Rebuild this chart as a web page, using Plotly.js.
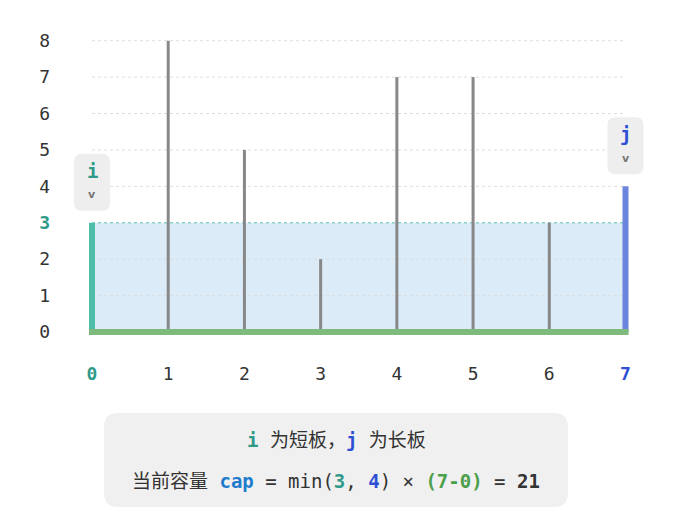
<!DOCTYPE html>
<html>
<head>
<meta charset="utf-8">
<script src="https://cdn.plot.ly/plotly-3.0.1.min.js"></script>
<style>html,body{margin:0;padding:0;background:#fff;}#chart{width:680px;height:518px;}</style>
</head>
<body>
<div id="chart"></div>
<script>
// ---- data ----
const positions = [0, 1, 2, 3, 4, 5, 6, 7];
const heights = [3, 8, 5, 2, 7, 7, 3, 4];
const xTickLabels = ['0', '1', '2', '3', '4', '5', '6', '7'];
const yTickValues = [0, 1, 2, 3, 4, 5, 6, 7, 8];
const iIndex = 0;
const jIndex = 7;
const lineOneText = ['为短板，', '为长板'];
const lineTwoLabel = '当前容量';

// ---- styles ----
const TEAL = '#4fbdaa', TEAL_TXT = '#2f9a8a';
const BLUE = '#6b84de', BLUE_TXT = '#2d4fd4';
const CAP_BLUE = '#1f7ccc';
const GREEN = '#7dba7b', GREEN_TXT = '#4c9f4a';
const GRAY = '#888888';
const MONO = 'DejaVu Sans Mono, Noto Sans CJK SC, monospace';

const W = 680, H = 518;
const L = 80, R = 43, T = 30, B = 173;
const px0 = 92, px7 = 625.5;
const pxPerX = (px7 - px0) / (positions[positions.length-1] - positions[0]);
const xr0 = positions[0] - (px0 - L) / pxPerX;
const xr1 = positions[positions.length-1] + ((W - R) - px7) / pxPerX;
const py0 = 332, py8 = 40.7;
const pxPerY = (py0 - py8) / (yTickValues[yTickValues.length-1] - yTickValues[0]);
const yr0 = 0 - ((H - B) - py0) / pxPerY;
const yr1 = yTickValues[yTickValues.length-1] + (py8 - T) / pxPerY;
const toPaperX = v => (v - xr0) / (xr1 - xr0);
const toPaperY = v => (v - yr0) / (yr1 - yr0);

const hi = heights[iIndex], hj = heights[jIndex];
const waterH = Math.min(hi, hj);
const width = positions[jIndex] - positions[iIndex];
const cap = waterH * width;
const xa = positions[iIndex], xb = positions[jIndex];

const traces = [];
traces.push({x: [xa, xb, xb, xa, xa], y: [0, 0, waterH, waterH, 0], mode: 'lines', fill: 'toself',
  fillcolor: '#dbebf8', line: {width: 0}, hoverinfo: 'skip'});
const gx = [], gy = [];
yTickValues.forEach(v => { if (v > 0 && v !== waterH) { gx.push(xa, xb, null); gy.push(v, v, null); } });
traces.push({x: gx, y: gy, mode: 'lines', line: {color: '#dddddd', width: 1, dash: 'dot'}, hoverinfo: 'skip'});
traces.push({x: [xa, xb], y: [waterH, waterH], mode: 'lines', line: {color: '#8dd3c7', width: 1.5, dash: 'dot'}, hoverinfo: 'skip'});
const bx = [], by = [];
positions.forEach((p, k) => { if (k !== iIndex && k !== jIndex) { bx.push(p, p, null); by.push(0, heights[k], null); } });
traces.push({x: bx, y: by, mode: 'lines', line: {color: GRAY, width: 3}, hoverinfo: 'skip'});
traces.push({x: [xa, xa], y: [0, hi], mode: 'lines', line: {color: TEAL, width: 6}, hoverinfo: 'skip'});
traces.push({x: [xb, xb], y: [0, hj], mode: 'lines', line: {color: BLUE, width: 6}, hoverinfo: 'skip'});
const pad = 3 / pxPerX;
traces.push({x: [xa - pad, xb + pad], y: [0, 0], mode: 'lines', line: {color: GREEN, width: 6}, hoverinfo: 'skip'});

function rr(x0, y0, x1, y1, r) {
  return `M${x0+r},${y0} L${x1-r},${y0} Q${x1},${y0} ${x1},${y0+r} L${x1},${y1-r} Q${x1},${y1} ${x1-r},${y1} L${x0+r},${y1} Q${x0},${y1} ${x0},${y1-r} L${x0},${y0+r} Q${x0},${y0} ${x0+r},${y0} Z`;
}

const shapes = [];
const annotations = [];
[[iIndex, 'i', TEAL_TXT], [jIndex, 'j', BLUE_TXT]].forEach(([k, lab, col]) => {
  const ax = toPaperX(positions[k]), ay = toPaperY(heights[k]);
  shapes.push({type: 'path', xref: 'paper', yref: 'paper', xsizemode: 'pixel', ysizemode: 'pixel',
    xanchor: ax, yanchor: ay, path: rr(-18, 12, 18, 69, 8),
    fillcolor: '#eeeeee', line: {width: 0}, layer: 'above'});
  annotations.push({x: ax, y: ay, xref: 'paper', yref: 'paper', yshift: 52, xanchor: 'center', yanchor: 'middle', showarrow: false,
    text: '<b>' + lab + '</b>', font: {family: MONO, size: 19, color: col}});
  annotations.push({x: ax, y: ay, xref: 'paper', yref: 'paper', yshift: 28, xanchor: 'center', yanchor: 'middle', showarrow: false,
    text: '<b>v</b>', font: {family: 'DejaVu Sans', size: 11, color: '#777'}});
});

const boxCx = (336 - L) / (W - L - R);
shapes.push({type: 'path', xref: 'paper', yref: 'paper', xsizemode: 'pixel', ysizemode: 'pixel',
  xanchor: boxCx, yanchor: 0, path: rr(-232, -162, 232, -68, 14), fillcolor: '#f0f0f0', line: {width: 0}});
const c = (col, t) => `<span style="color:${col}"><b>${t}</b></span>`;
annotations.push({x: boxCx, y: 0, xref: 'paper', yref: 'paper', yshift: -95, xanchor: 'center', yanchor: 'middle', showarrow: false,
  text: c(TEAL_TXT, 'i') + ' ' + lineOneText[0] + c(BLUE_TXT, 'j') + ' ' + lineOneText[1],
  font: {family: MONO, size: 19, color: '#333'}});
annotations.push({x: boxCx, y: 0, xref: 'paper', yref: 'paper', yshift: -136, xanchor: 'center', yanchor: 'middle', showarrow: false,
  text: lineTwoLabel + ' ' + c(CAP_BLUE, 'cap') + ' = min(' + c(TEAL_TXT, hi) + ', ' + c(BLUE_TXT, hj) + ') × ' +
    c(GREEN_TXT, '(' + xb + '-' + xa + ')') + ' = <b>' + cap + '</b>',
  font: {family: MONO, size: 19, color: '#333'}});

const yTickText = yTickValues.map(v => v === waterH ? c(TEAL_TXT, v) : String(v));
const xTickText = xTickLabels.map((t, k) => k === iIndex ? c(TEAL_TXT, t) : (k === jIndex ? c(BLUE_TXT, t) : t));

const layout = {
  width: W, height: H, margin: {l: L, r: R, t: T, b: B},
  paper_bgcolor: '#ffffff', plot_bgcolor: '#ffffff', showlegend: false,
  xaxis: {range: [xr0, xr1], showgrid: false, zeroline: false, showline: false, ticks: '',
    tickvals: positions, ticktext: xTickText, ticklabelstandoff: 16,
    tickfont: {family: MONO, size: 18, color: '#333'}, fixedrange: true},
  yaxis: {range: [yr0, yr1], showgrid: false, zeroline: false, showline: false, ticks: '',
    tickvals: yTickValues, ticktext: yTickText, ticklabelstandoff: 29,
    tickfont: {family: MONO, size: 18, color: '#333'}, fixedrange: true},
  shapes: shapes, annotations: annotations
};
Plotly.newPlot('chart', traces, layout, {staticPlot: true, displayModeBar: false});
</script>
</body>
</html>
